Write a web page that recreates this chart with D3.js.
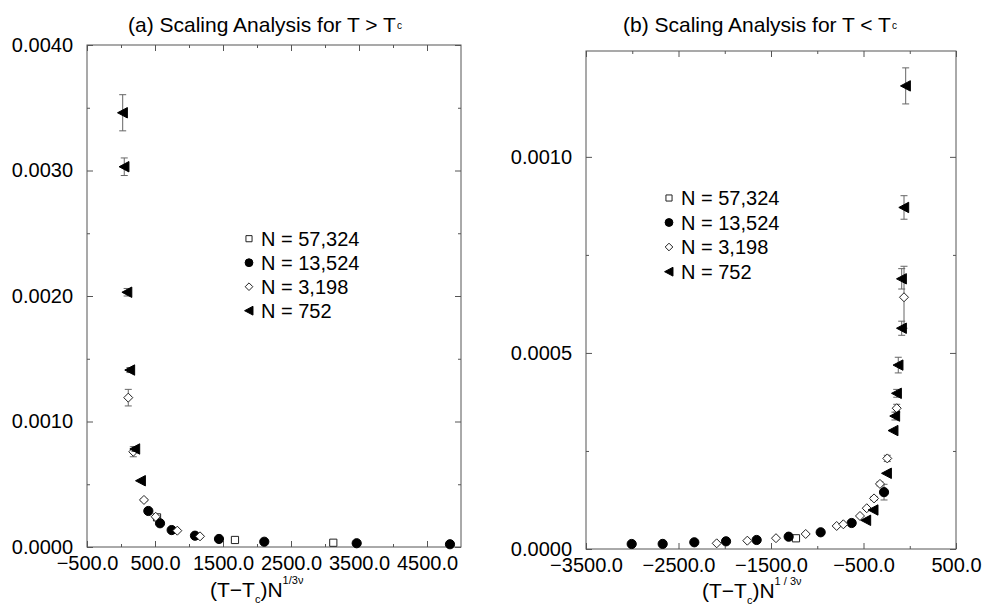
<!DOCTYPE html>
<html>
<head>
<meta charset="utf-8">
<script src="https://cdn.jsdelivr.net/npm/d3@7"></script>
<style>
  html, body { margin: 0; padding: 0; background: #fff; }
  svg { display: block; font-family: "Liberation Sans", Arial, Helvetica, sans-serif; }
</style>
</head>
<body>
<svg id="chart" width="982" height="607"></svg>
<script>
// Scaling data, [x, y, error] per point; x = (T - Tc) N^(1/3nu)
// Panel (a): T > Tc
const aN57324 = [[530, 0.000236, 0], [1676, 0.000056, 0.000004], [3122, 0.000034, 0.000004]];
const aN13524 = [[402, 0.000287, 0], [574, 0.000189, 0], [745, 0.000135, 0], [1088, 0.00009, 0],
                 [1441, 0.000064, 0], [2107, 0.000042, 0], [3466, 0.00003, 0], [4838, 0.000022, 0]];
const aN3198  = [[107, 0.00119, 0.000066], [181, 0.000759, 0.00004], [338, 0.000375, 0.00001],
                 [510, 0.000241, 0.00001], [828, 0.00013, 0], [1162, 0.000085, 0]];
const aN752   = [[25, 0.00346, 0.000144], [48, 0.00303, 0.00007], [90, 0.00203, 0.00003],
                 [132, 0.00141, 0.00002], [206, 0.000781, 0.00002], [290, 0.000528, 0]];

// Panel (b): T < Tc
const bN57324 = [[-1230, 0.0000273, 0.000003]];
const bN13524 = [[-3006, 0.0000128, 0], [-2671, 0.000013, 0], [-2329, 0.0000171, 0], [-1986, 0.0000196, 0],
                 [-1655, 0.000023, 0], [-1309, 0.0000314, 0], [-963, 0.0000426, 0], [-628, 0.0000663, 0],
                 [-278, 0.000145, 0.00002]];
const bN3198  = [[-2087, 0.0000145, 0], [-1756, 0.0000212, 0], [-1446, 0.0000276, 0], [-1125, 0.0000383, 0],
                 [-790, 0.0000587, 0], [-718, 0.000063, 0], [-538, 0.0000842, 0], [-465, 0.000104, 0],
                 [-386, 0.000129, 0.000005], [-322, 0.000166, 0.000005], [-243, 0.000231, 0.000008],
                 [-141, 0.000359, 0.00001], [-62, 0.000642, 0.000079]];
const bN752   = [[-473, 0.0000732, 0], [-394, 0.0000995, 0], [-249, 0.000193, 0], [-178, 0.000302, 0],
                 [-160, 0.000339, 0.00001], [-141, 0.000397, 0.00001], [-124, 0.000469, 0.00002],
                 [-87, 0.000563, 0.000018], [-87, 0.000689, 0.000026], [-62, 0.000871, 0.00003],
                 [-44, 0.001181, 0.000046]];

const legendLabels = ["N = 57,324", "N = 13,524", "N = 3,198", "N = 752"];

const aXTicks = [-500, 500, 1500, 2500, 3500, 4500];
const aYTicks = [0, 0.001, 0.002, 0.003, 0.004];
const bXTicks = [-3500, -2500, -1500, -500, 500];
const bYTicks = [0, 0.0005, 0.001];

// Marker shapes as custom d3 symbol types (size = half-width in px)
const symCircle = { draw(ctx, r) { ctx.moveTo(r, 0); ctx.arc(0, 0, r, 0, 2 * Math.PI); ctx.closePath(); } };
const symDiamond = { draw(ctx, r) { ctx.moveTo(0, -r); ctx.lineTo(r, 0); ctx.lineTo(0, r); ctx.lineTo(-r, 0); ctx.closePath(); } };
const symSquare = { draw(ctx, r) { ctx.rect(-r, -r, 2 * r, 2 * r); } };
const symTriLeft = { draw(ctx, r) { ctx.moveTo(-r, 0); ctx.lineTo(r * 0.9, -r); ctx.lineTo(r * 0.9, r); ctx.closePath(); } };

const seriesStyle = [
  { type: symSquare,  size: 3.6, fill: "#fff", stroke: "#222" },
  { type: symCircle,  size: 4.6, fill: "#000", stroke: "#000" },
  { type: symDiamond, size: 4.5, fill: "#fff", stroke: "#222" },
  { type: symTriLeft, size: 5.2, fill: "#000", stroke: "#000" }
];

const svg = d3.select("#chart");
const fmt = d3.format(".1f");
const fmtY = d3.format(".4f");

function panel(cfg) {
  const { x, y, xTicks, yTicks, xMinor, yMinor, series, legend, title, xTitle } = cfg;
  const [x0, x1] = x.range();
  const [y0, y1] = y.range();
  const g = svg.append("g");

  // frame
  g.append("rect")
    .attr("x", x0).attr("y", y1).attr("width", x1 - x0).attr("height", y0 - y1)
    .attr("fill", "none").attr("stroke", "#555").attr("stroke-width", 1);

  const tickStyle = sel => {
    sel.select(".domain").remove();
    sel.selectAll(".tick line").attr("stroke", "#555");
    sel.selectAll("text").attr("fill", "#000").attr("font-size", 20)
      .attr("font-family", "'Liberation Sans', Arial, sans-serif");
  };

  // labelled major ticks
  g.append("g").attr("transform", `translate(0,${y0})`)
    .call(d3.axisBottom(x).tickValues(xTicks).tickSize(-6).tickPadding(9).tickFormat(fmt))
    .call(tickStyle);
  g.append("g").attr("transform", `translate(${x0},0)`)
    .call(d3.axisLeft(y).tickValues(yTicks).tickSize(-6).tickPadding(14).tickFormat(fmtY))
    .call(tickStyle);
  // mirrored ticks on the top and right edges
  g.append("g").attr("transform", `translate(0,${y1})`)
    .call(d3.axisTop(x).tickValues(xTicks).tickSize(-6).tickFormat(""))
    .call(tickStyle);
  g.append("g").attr("transform", `translate(${x1},0)`)
    .call(d3.axisRight(y).tickValues(yTicks).tickSize(-6).tickFormat(""))
    .call(tickStyle);
  // minor ticks
  g.append("g").attr("transform", `translate(0,${y0})`)
    .call(d3.axisBottom(x).tickValues(xMinor).tickSize(-3).tickFormat("")).call(tickStyle);
  g.append("g").attr("transform", `translate(0,${y1})`)
    .call(d3.axisTop(x).tickValues(xMinor).tickSize(-3).tickFormat("")).call(tickStyle);
  g.append("g").attr("transform", `translate(${x0},0)`)
    .call(d3.axisLeft(y).tickValues(yMinor).tickSize(-3).tickFormat("")).call(tickStyle);
  g.append("g").attr("transform", `translate(${x1},0)`)
    .call(d3.axisRight(y).tickValues(yMinor).tickSize(-3).tickFormat("")).call(tickStyle);

  // error bars then markers, series by series
  series.forEach((data, i) => {
    const st = seriesStyle[i];
    const eb = g.append("g").attr("stroke", "#666").attr("stroke-width", 1).attr("fill", "none");
    data.filter(d => d[2] > 0).forEach(d => {
      const cx = x(d[0]), ya = y(d[1] + d[2]), yb = y(d[1] - d[2]);
      eb.append("line").attr("x1", cx).attr("x2", cx).attr("y1", ya).attr("y2", yb);
      eb.append("line").attr("x1", cx - 3.5).attr("x2", cx + 3.5).attr("y1", ya).attr("y2", ya);
      eb.append("line").attr("x1", cx - 3.5).attr("x2", cx + 3.5).attr("y1", yb).attr("y2", yb);
    });
    g.append("g").selectAll("path").data(data).join("path")
      .attr("transform", d => `translate(${x(d[0])},${y(d[1])})`)
      .attr("d", d3.symbol().type(st.type).size(st.size))
      .attr("fill", st.fill).attr("stroke", st.stroke).attr("stroke-width", 1);
  });

  // legend
  legend.rows.forEach((cy, i) => {
    const st = seriesStyle[i];
    g.append("path")
      .attr("transform", `translate(${legend.x},${cy})`)
      .attr("d", d3.symbol().type(st.type).size(st.size * 0.85))
      .attr("fill", st.fill).attr("stroke", st.stroke).attr("stroke-width", 1);
    g.append("text").attr("x", legend.x + 12).attr("y", cy + 7)
      .attr("font-size", 20).attr("fill", "#000").text(legendLabels[i]);
  });

  // panel title with subscript c
  const t = g.append("text").attr("x", title.x).attr("y", title.y).attr("font-size", 21).attr("fill", "#000");
  t.append("tspan").text(title.text);
  t.append("tspan").attr("font-size", 10).attr("dx", 1).attr("dy", -3).text("c");

  // axis title (T−Tc)N^(1/3ν)
  const xt = g.append("text").attr("x", xTitle.x).attr("y", xTitle.y).attr("font-size", 21).attr("fill", "#000");
  xt.append("tspan").text("(T\u2212T");
  xt.append("tspan").attr("font-size", 11).attr("dy", 6).text("c");
  xt.append("tspan").attr("dy", -6).text(")N");
  xt.append("tspan").attr("font-size", 11).attr("dy", -13).text(xTitle.sup);
}

// Panel (a)
panel({
  x: d3.scaleLinear().domain([-500, 5000]).range([87, 461]),
  y: d3.scaleLinear().domain([0, 0.004]).range([547, 45]),
  xTicks: aXTicks,
  yTicks: aYTicks,
  xMinor: d3.range(0, 5000, 1000),
  yMinor: [0.0005, 0.0015, 0.0025, 0.0035],
  series: [aN57324, aN13524, aN3198, aN752],
  legend: { x: 249, rows: [238.7, 262.7, 286.7, 310.7] },
  title: { x: 128, y: 32, text: "(a) Scaling Analysis for T > T" },
  xTitle: { x: 210, y: 597, sup: "1/3\u03bd" }
});

// Panel (b)
panel({
  x: d3.scaleLinear().domain([-3500, 500]).range([586, 956]),
  y: d3.scaleLinear().domain([0, 0.00127]).range([549, 51]),
  xTicks: bXTicks,
  yTicks: bYTicks,
  xMinor: d3.range(-3000, 500, 1000),
  yMinor: [0.00025, 0.00075],
  series: [bN57324, bN13524, bN3198, bN752],
  legend: { x: 669, rows: [198, 222.5, 247, 271.7] },
  title: { x: 623, y: 32, text: "(b) Scaling Analysis for T < T" },
  xTitle: { x: 702, y: 598, sup: "1 / 3\u03bd" }
});
</script>
</body>
</html>
